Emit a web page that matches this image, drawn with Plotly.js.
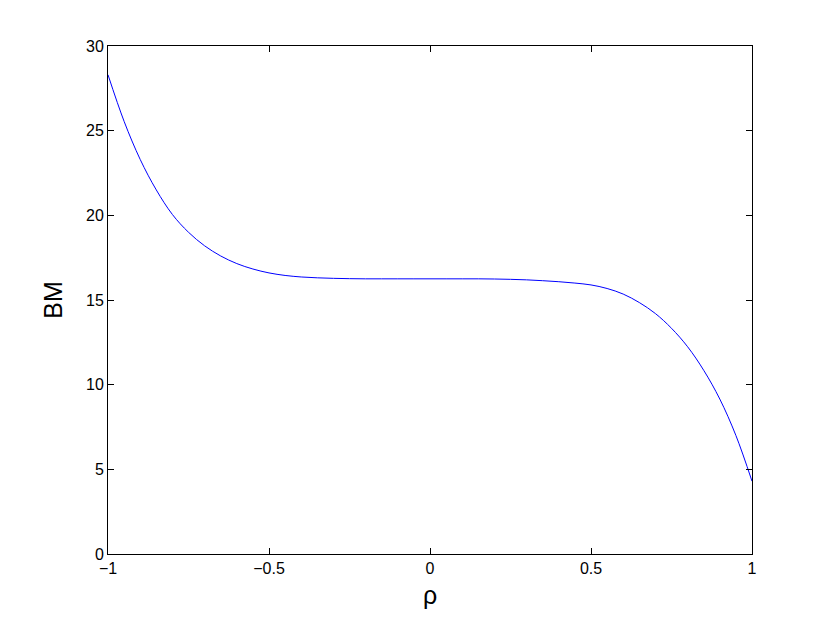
<!DOCTYPE html>
<html>
<head>
<meta charset="utf-8">
<script src="https://cdn.plot.ly/plotly-3.0.1.min.js"></script>
<style>html,body{margin:0;padding:0;background:#fff;}#chart{width:830px;height:625px;}</style>
</head>
<body>
<div id="chart"></div>
<script>
var rho = [-1.00,-0.95,-0.90,-0.85,-0.80,-0.75,-0.70,-0.65,-0.60,-0.55,-0.50,-0.45,-0.40,-0.35,-0.30,-0.25,-0.20,-0.15,-0.10,-0.05,0.00,0.05,0.10,0.15,0.20,0.25,0.30,0.35,0.40,0.45,0.50,0.55,0.60,0.65,0.70,0.75,0.80,0.85,0.90,0.95,1.00];
var bm = [28.3,25.55,23.3,21.5,20.05,19.0,18.2,17.6,17.15,16.83,16.6,16.45,16.36,16.31,16.28,16.26,16.25,16.25,16.25,16.25,16.25,16.25,16.25,16.25,16.24,16.22,16.19,16.14,16.08,16.0,15.89,15.68,15.35,14.85,14.2,13.33,12.24,10.85,9.15,7.0,4.3];
var xTicks = [-1,-0.5,0,0.5,1];
var xTickText = ['\u22121','\u22120.5','0','0.5','1'];
var yTicks = [0,5,10,15,20,25,30];

var font = {family: 'Liberation Sans, Arial, Helvetica, sans-serif', size: 16, color: '#000'};
var axisCommon = {
  showgrid: false, zeroline: false, showline: true, linecolor: '#000', linewidth: 1,
  mirror: 'ticks', ticks: 'inside', ticklen: 6, tickcolor: '#000', tickwidth: 1,
  tickfont: font, fixedrange: true
};
var layout = {
  width: 830, height: 625,
  margin: {l: 108, r: 78, t: 46, b: 71},
  paper_bgcolor: '#fff', plot_bgcolor: '#fff',
  showlegend: false,
  xaxis: Object.assign({}, axisCommon, {
    range: [-1, 1], tickvals: xTicks, ticktext: xTickText,
    title: {text: '\u03c1', font: {family: font.family, size: 25, color: '#000'}, standoff: 10}
  }),
  yaxis: Object.assign({}, axisCommon, {
    range: [0, 30], tickvals: yTicks,
    title: {text: 'BM', font: {family: font.family, size: 25, color: '#000'}, standoff: 16}
  })
};
Plotly.newPlot('chart', [{
  x: rho, y: bm, type: 'scatter', mode: 'lines',
  line: {color: '#0000ff', width: 1, shape: 'spline', smoothing: 1}
}], layout, {staticPlot: true});
</script>
</body>
</html>
